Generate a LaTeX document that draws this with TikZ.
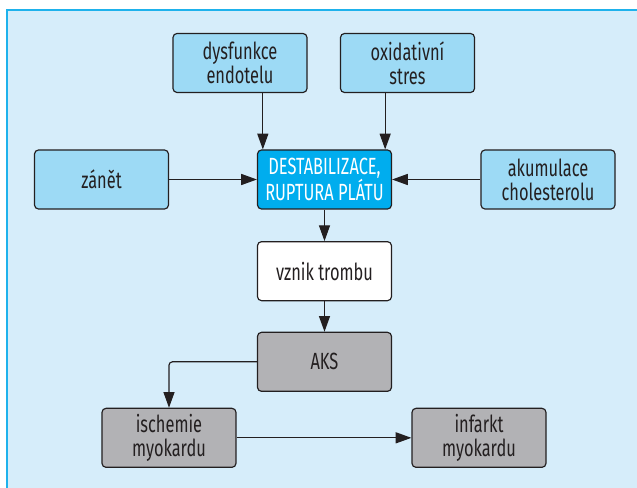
\documentclass[tikz,border=0pt]{standalone}
\usepackage{fontspec}
\setmainfont{Fira Sans}[FakeStretch=0.7]
\usetikzlibrary{positioning, arrows.meta}
\definecolor{framecyan}{RGB}{30,178,236}
\definecolor{panelblue}{RGB}{214,237,250}
\definecolor{causeblue}{RGB}{157,218,245}
\definecolor{plaquecyan}{RGB}{0,173,238}
\definecolor{outcomegray}{RGB}{178,178,181}
\definecolor{inkdark}{RGB}{35,31,32}
\tikzset{
>={Triangle[length=0.47cm, width=0.33cm]}, % long filled arrow heads
node distance=2.75cm, % centre to centre, used with below of= etc.
box/.style={draw=inkdark, line width=1pt, rounded corners=0.12cm, minimum width=4.02cm, minimum height=1.77cm, inner sep=0pt, align=center, text=inkdark, font=\fontsize{20}{20.5}\selectfont}, % common look of every box
cause/.style={box, fill=causeblue},
plaque/.style={box, fill=plaquecyan, text=white},
plain/.style={box, fill=white},
outcome/.style={box, fill=outcomegray},
link/.style={->, draw=inkdark, line width=1pt}
}

\begin{document}
\begin{tikzpicture}
      \useasboundingbox (-9.735,-9.255) rectangle (9.375,5.385);
      \clip (-9.735,-9.255) rectangle (9.375,5.385);
      \draw[framecyan, line width=0.06cm, fill=panelblue] (-9.525,5.085) rectangle (9.8,-9.6);

      \node[plaque] (destab) {DESTABILIZACE,\\RUPTURA PLÁTU};
      \node[plain, below of=destab] (trombus) {vznik trombu};
      \node[outcome, below of=trombus, yshift=0.03cm] (aks) {AKS};
      \node[cause, above of=destab, xshift=-2.535cm, yshift=0.745cm] (endotel) {dysfunkce\\endotelu};
      \node[cause, above of=destab, xshift=2.49cm, yshift=0.745cm] (oxstres) {oxidativní\\stres};
      \node[cause, left of=destab, xshift=-3.94cm] (zanet) {zánět};
      \node[cause, right of=destab, xshift=3.955cm] (cholest) {akumulace\\cholesterolu};
      \node[outcome, below of=aks, xshift=-4.665cm, yshift=0.47cm] (ischemie) {ischemie\\myokardu};
      \node[outcome, below of=aks, xshift=4.635cm, yshift=0.47cm] (infarkt) {infarkt\\myokardu};

      \draw[link] ([xshift=-1.85cm]destab.north |- endotel.south) -- ([xshift=-1.85cm]destab.north);
      \draw[link] ([xshift=1.82cm]destab.north |- oxstres.south) -- ([xshift=1.82cm]destab.north);
      \draw[link] (zanet) -- (destab);
      \draw[link] (cholest) -- (destab);
      \draw[link] (destab) -- (trombus);
      \draw[link] (trombus) -- (aks);
      \draw[link, rounded corners=0.1cm] (aks.west) -| (ischemie.north);
      \draw[link] (ischemie) -- (infarkt);
    \end{tikzpicture}
\end{document}
